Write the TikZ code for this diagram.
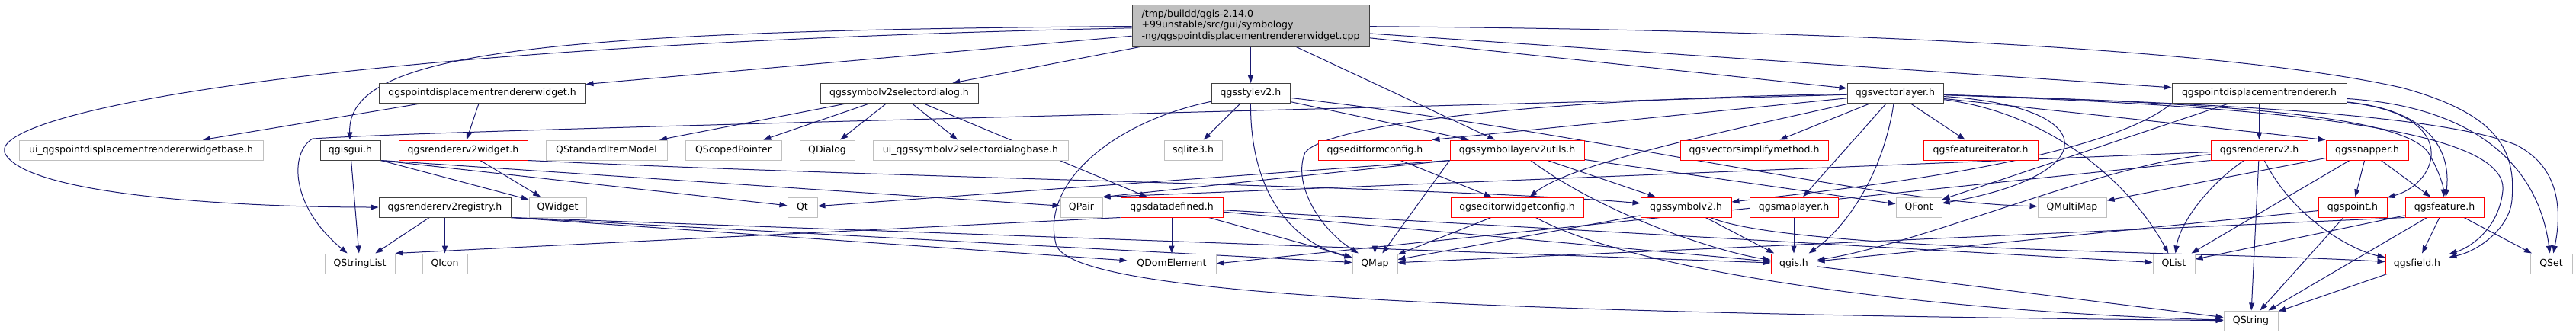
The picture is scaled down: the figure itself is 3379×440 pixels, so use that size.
\documentclass[tikz,border=0pt]{standalone}
\usepackage{fontspec}
\setmainfont{DejaVu Sans}
\usepackage{tikz}
\usetikzlibrary{arrows.meta}
\usepackage{xcolor}

\definecolor{edgeblue}{HTML}{191970}
\definecolor{boxline}{HTML}{404040}
\definecolor{boxred}{HTML}{FF0000}
\definecolor{boxgray}{HTML}{BFBFBF}
\newcommand{\depfont}{\fontsize{12.5pt}{14.7pt}\selectfont}

\pgfdeclarelayer{edges}
\pgfsetlayers{edges,main}

\begin{document}
\begin{tikzpicture}[x=1pt, y=-1pt,
    hdr/.style={draw=boxline, fill=white, line width=1pt, minimum height=26pt, inner sep=0pt, font=\depfont},
    trunc/.style={hdr, draw=boxred},
    ext/.style={hdr, draw=boxgray},
    dep/.style={draw=edgeblue, line width=1pt, -{Triangle[length=10pt,width=7pt]}}]
        \useasboundingbox (0,0) rectangle (3379,440);

        % Source file
        \node[hdr, fill=boxgray, minimum width=311pt, minimum height=55pt, align=left] (root) at (1640.5,33.5)
            {/tmp/buildd/qgis-2.14.0\\+99unstable/src/gui/symbology\\-ng/qgspointdisplacementrendererwidget.cpp};

        % Project headers (black)
        \foreach \nm/\cx/\cy/\bw/\txt in {
            pdrw/632.5/122.5/271/qgspointdisplacementrendererwidget.h,
            sdlg/1179.5/122.5/207/qgssymbolv2selectordialog.h,
            style/1640.5/122.5/103/qgsstylev2.h,
            vlayer/2486/122.5/126/qgsvectorlayer.h,
            pdr/2963.5/122.5/229/qgspointdisplacementrenderer.h,
            gui/459.5/197/79/qgisgui.h,
            reg/583.5/272/173/qgsrendererv2registry.h} {
            \node[hdr, minimum width=\bw pt] (\nm) at (\cx,\cy) {\txt};
        }

        % Truncated headers (red)
        \foreach \nm/\cx/\cy/\bw/\txt in {
            r2w/607.5/197/169/qgsrendererv2widget.h,
            efc/1803.5/197/149/qgseditformconfig.h,
            slu/1990/197/176/qgssymbollayerv2utils.h,
            vsm/2301/197/194/qgsvectorsimplifymethod.h,
            fiter/2598/197/150/qgsfeatureiterator.h,
            r2/2963.5/197/127/qgsrendererv2.h,
            snap/3105/197/108/qgssnapper.h,
            dd/1537/272/134/qgsdatadefined.h,
            ewc/1990/272/174/qgseditorwidgetconfig.h,
            sym/2211.5/272/119/qgssymbolv2.h,
            mlayer/2353/272/116/qgsmaplayer.h,
            pt/3086/272/90/qgspoint.h,
            feat/3206.5/272/103/qgsfeature.h,
            qgis/2353/346/60/qgis.h,
            field/3170.5/346/83/qgsfield.h} {
            \node[trunc, minimum width=\bw pt] (\nm) at (\cx,\cy) {\txt};
        }

        % External headers (gray)
        \foreach \nm/\cx/\cy/\bw/\txt in {
            uipd/185/197/320/ui\_qgspointdisplacementrendererwidgetbase.h,
            qsim/795.5/197/159/QStandardItemModel,
            qsp/962/197/126/QScopedPointer,
            qdlg/1085/197/72/QDialog,
            uisd/1273/197/256/ui\_qgssymbolv2selectordialogbase.h,
            sqlite/1565/197/76/sqlite3.h,
            qwidget/731.5/272/75/QWidget,
            qt/1052.5/272/39/Qt,
            qpair/1418.5/272/55/QPair,
            qfont/2517/272/60/QFont,
            qmmap/2718/272/90/QMultiMap,
            qsl/472/346/92/QStringList,
            qicon/583.5/346/59/QIcon,
            qdom/1537/346/116/QDomElement,
            qmap/1803.5/346/59/QMap,
            qlist/2851.5/346/55/QList,
            qset/3346.5/346/55/QSet,
            qstring/2952.5/421/71/QString} {
            \node[ext, minimum width=\bw pt] (\nm) at (\cx,\cy) {\txt};
        }

        \begin{pgfonlayer}{edges}
        % Straight include edges
        \foreach \a/\b in {root/pdrw, root/sdlg, root/style, root/slu, root/vlayer, root/pdr,
            pdrw/uipd, pdrw/r2w, gui/qsl, r2w/qwidget,
            sdlg/qsim, sdlg/qsp, sdlg/qdlg, sdlg/uisd, sdlg/dd,
            style/sqlite, style/slu, vlayer/vsm, vlayer/fiter, vlayer/mlayer,
            pdr/r2, pdr/qfont, reg/qicon, reg/qsl, slu/sym, slu/qfont,
            efc/qmap, efc/ewc, ewc/qmap, dd/qdom, dd/qmap, dd/qgis, dd/qlist,
            sym/qgis, sym/qmap, mlayer/qgis, qgis/qstring, r2/qstring,
            snap/qmmap, snap/qlist, snap/pt, snap/feat, pt/qstring, pt/qgis,
            feat/field, feat/qstring, feat/qset, feat/qlist, field/qstring} {
            \draw[dep] (\a) -- (\b);
        }
        \foreach \b in {qwidget, qt, qpair} {
            \draw[dep] (gui.south east) -- (\b);
        }
        \foreach \b in {qdom, qmap, qgis} {
            \draw[dep] (reg.south east) -- (\b);
        }
        \draw[dep] (slu.south west) -- (qt);
        \draw[dep] (slu.south west) -- (qmap);
        \draw[dep] (slu.south west) -- (qpair.north east);
        \draw[dep] (r2) -- (qpair.north east);
        \draw[dep] (r2.south west) -- (qdom.east);
        \draw[dep] (vlayer) -- (efc.north east);
        \draw[dep] (vlayer) -- (snap.north west);
        \draw[dep] (feat.south west) -- (qmap);
        \draw[dep] (dd.south west) -- (qsl.north east);

        % Routed edges
        \draw[dep] (root) .. controls (700,40) and (455,70) .. (gui);
        \draw[dep] (root) .. controls (400,60) and (-10,150) .. (6,200) .. controls (30,255) and (300,272) .. (reg);
        \draw[dep] (root) .. controls (2500,40) and (2950,70) .. (3150,115) .. controls (3280,150) and (3300,200) .. (3295,262) .. controls (3292,300) and (3250,330) .. (field);
        \draw[dep] (style) .. controls (1460,160) and (1365,240) .. (1385,320) .. controls (1400,380) and (1800,410) .. (qstring);
        \draw[dep] (style) .. controls (1640,260) and (1700,320) .. (qmap);
        \draw[dep] (style) .. controls (2100,175) and (2450,265) .. (qmmap);
        \draw[dep] (vlayer) .. controls (1500,150) and (600,170) .. (410,182) .. controls (380,200) and (380,270) .. (qsl);
        \draw[dep] (vlayer) .. controls (2000,130) and (1740,165) .. (1712,200) .. controls (1695,240) and (1730,300) .. (qmap);
        \draw[dep] (vlayer) .. controls (2250,175) and (2060,215) .. (ewc);
        \draw[dep] (vlayer) .. controls (2470,230) and (2420,300) .. (qgis);
        \draw[dep] (vlayer) .. controls (2760,140) and (2760,230) .. (qfont);
        \draw[dep] (vlayer) .. controls (2700,150) and (2800,250) .. (qlist);
        \draw[dep] (vlayer) .. controls (3000,140) and (3290,170) .. (3283,250) .. controls (3278,300) and (3240,325) .. (field);
        \draw[dep] (vlayer) .. controls (2900,135) and (3200,150) .. (3300,190) .. controls (3360,220) and (3360,280) .. (qset);
        \draw[dep] (vlayer) .. controls (2900,135) and (3150,150) .. (3185,200) .. controls (3200,225) and (3205,245) .. (feat);
        \draw[dep] (pdr) .. controls (3250,140) and (3330,220) .. (qset);
        \draw[dep] (pdr) .. controls (3190,145) and (3215,200) .. (feat);
        \draw[dep] (pdr) .. controls (3230,150) and (3200,240) .. (pt);
        \draw[dep] (pdr.south west) .. controls (2750,215) and (2400,250) .. (sym);
        \draw[dep] (r2) .. controls (2900,240) and (2860,290) .. (qlist);
        \draw[dep] (r2) .. controls (3010,290) and (3090,330) .. (field);
        \draw[dep] (r2) .. controls (2760,215) and (2520,320) .. (qgis);
        \draw[dep] (slu) .. controls (2100,280) and (2250,330) .. (qgis);
        \draw[dep] (r2w.south east) .. controls (1200,235) and (1900,245) .. (sym);
        \draw[dep] (ewc) .. controls (2150,360) and (2550,410) .. (qstring);
        \draw[dep] (sym) .. controls (2350,330) and (2900,330) .. (field);
        \end{pgfonlayer}
    \end{tikzpicture}
\end{document}
